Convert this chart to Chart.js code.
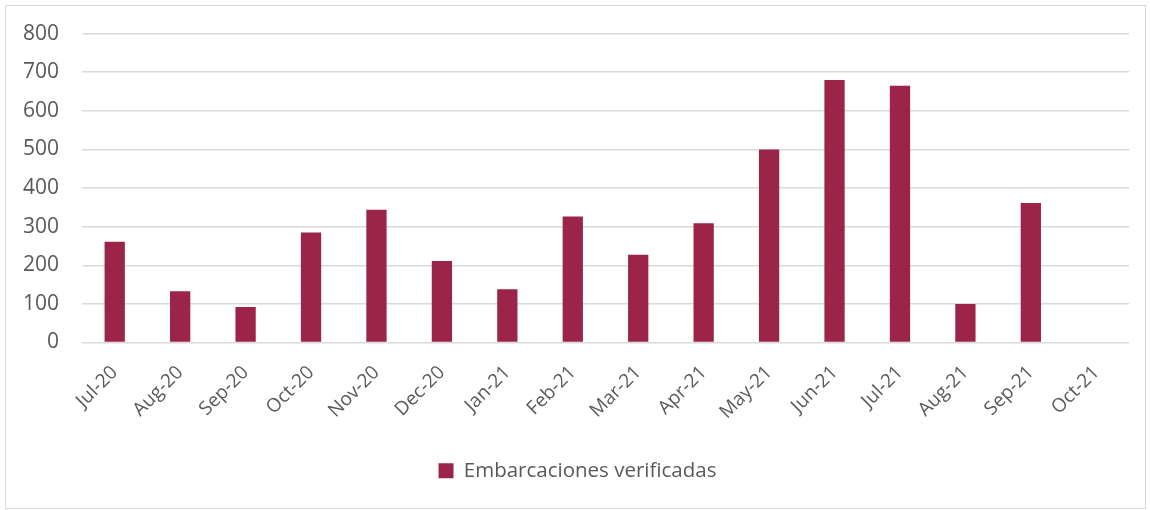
<!DOCTYPE html>
<html>
<head>
<meta charset="utf-8">
<script src="https://cdn.jsdelivr.net/npm/chart.js@4.4.0/dist/chart.umd.min.js"></script>
<style>
  html, body { margin: 0; padding: 0; background: #fff; }
  #wrap { position: absolute; left: 5px; top: 5px; width: 1139px; height: 502px; border: 1px solid #d9d9d9; overflow: hidden; }
  canvas { display: block; position: absolute; left: 0; top: -8px; }
</style>
</head>
<body>
<div id="wrap"><canvas id="c" width="1139" height="510"></canvas></div>
<script>
const categories = ["Jul-20","Aug-20","Sep-20","Oct-20","Nov-20","Dec-20","Jan-21","Feb-21","Mar-21","Apr-21","May-21","Jun-21","Jul-21","Aug-21","Sep-21","Oct-21"];
const embarcaciones = [261, 133, 92, 285, 344, 211, 138, 326, 227, 309, 500, 680, 665, 100, 361, null];
const seriesName = "Embarcaciones verificadas";
const yTicks = [0, 100, 200, 300, 400, 500, 600, 700, 800];

const FONT = "'Open Sans', sans-serif";
const TXT = '#595959';

const legendShift = {
  id: 'legendShift',
  afterLayout(chart) {
    const lg = chart.legend;
    if (lg) { lg.left += 10; lg.right += 10; }
  }
};

new Chart(document.getElementById('c'), {
  type: 'bar',
  data: {
    labels: categories,
    datasets: [{
      label: seriesName,
      data: embarcaciones,
      backgroundColor: '#9D2449',
      borderWidth: 0,
      barPercentage: 0.62,
      categoryPercentage: 0.5
    }]
  },
  options: {
    responsive: false,
    animation: false,
    devicePixelRatio: 1,
    layout: { padding: { top: 15, right: 16, bottom: 17, left: 0 } },
    plugins: {
      legend: {
        position: 'bottom',
        labels: {
          color: TXT,
          font: { family: FONT, size: 20.5 },
          boxWidth: 15,
          boxHeight: 15,
          padding: 10
        }
      },
      tooltip: { enabled: false }
    },
    scales: {
      x: {
        grid: { display: false, drawTicks: false },
        border: { display: false },
        ticks: {
          color: TXT,
          font: { family: FONT, size: 19 },
          maxRotation: 45,
          minRotation: 45,
          padding: 19,
          autoSkip: false
        },
        afterFit: s => { s.height = 108; }
      },
      y: {
        min: 0,
        max: 800,
        afterBuildTicks: s => { s.ticks = yTicks.map(v => ({ value: v })); },
        grid: { color: '#d9d9d9', lineWidth: 1.5, drawTicks: false },
        border: { display: false },
        ticks: {
          color: TXT,
          font: { family: FONT, size: 21 },
          padding: 23
        },
        afterFit: s => { s.width = 76; }
      }
    }
  },
  plugins: [legendShift]
});
</script>
</body>
</html>
